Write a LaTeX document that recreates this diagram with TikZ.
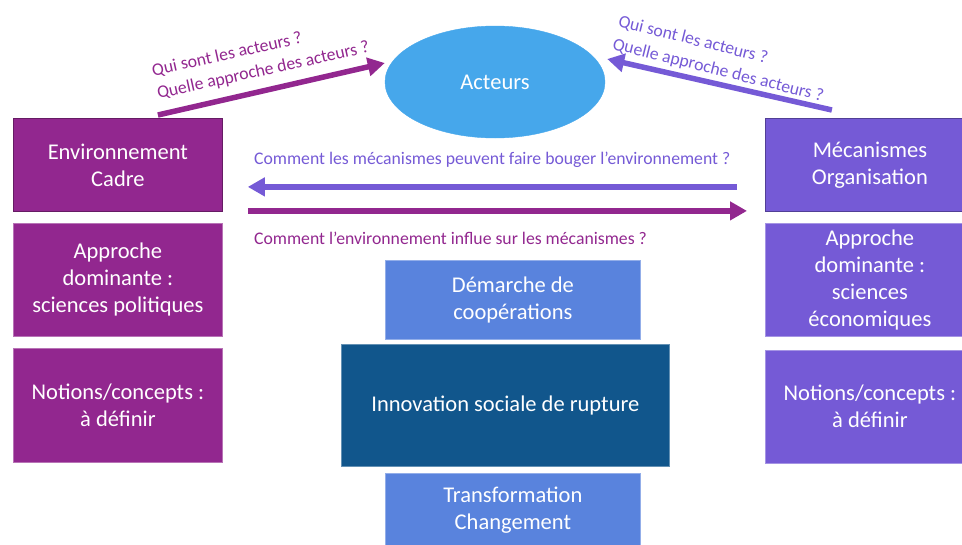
\documentclass[tikz,border=0pt]{standalone}
\usepackage{fontspec}
\setmainfont{Carlito}
\usetikzlibrary{positioning,arrows.meta,shapes.geometric}
\definecolor{mpurple}{RGB}{146,39,143}
\definecolor{mviolet}{RGB}{117,90,214}
\definecolor{msky}{RGB}{70,167,235}
\definecolor{mblue}{RGB}{89,131,221}
\definecolor{mnavy}{RGB}{17,86,140}
\tikzset{
  block/.style={rectangle,fill=#1,draw=#1!65!white,line width=0.8pt,
    text=white,align=center,inner sep=0pt},
  headblock/.style={block=#1,draw=#1!70!black},
  colbox/.style={minimum width=209pt},
  fat/.style={draw=#1,line width=5.5pt,-{Triangle[length=17pt,width=18pt]}},
  question/.style={text=#1,font=\fontsize{17.7}{23.5}\selectfont,inner sep=0pt}
}
\begin{document}
\begin{tikzpicture}[x=1pt,y=-1pt,font=\fontsize{22.5}{27}\selectfont]
  \path[use as bounding box,clip] (0,0) rectangle (962,544);
  % left column
  \node[headblock=mpurple,colbox,minimum height=93pt,anchor=north west]
    (env-top) at (13,118) {Environnement\\Cadre};
  \node[block=mpurple,colbox,minimum height=113pt,below=11pt of env-top]
    (env-mid) {Approche\\dominante :\\sciences politiques};
  \node[block=mpurple,colbox,minimum height=114pt,below=11pt of env-mid]
    (env-bot) {Notions/concepts :\\à définir};
  % right column
  \node[headblock=mviolet,colbox,minimum height=93pt,anchor=north west]
    (mec-top) at (765,118) {Mécanismes\\Organisation};
  \node[block=mviolet,colbox,minimum height=113pt,below=11pt of mec-top]
    (mec-mid) {Approche\\dominante :\\sciences\\économiques};
  \node[block=mviolet,colbox,minimum height=113pt,below=13pt of mec-mid]
    (mec-bot) {Notions/concepts :\\à définir};
  % centre
  \node[ellipse,fill=msky,draw=msky,text=white,minimum width=220pt,
    minimum height=112pt] (acteurs) at (495,82) {Acteurs};
  \node[block=mblue,minimum width=255pt,minimum height=79pt,anchor=north west]
    (demarche) at (385,260) {Démarche de\\coopérations};
  \node[block=mnavy,minimum width=328pt,minimum height=122pt,
    below=4pt of demarche,xshift=-7.5pt] (innovation) {Innovation sociale de rupture};
  \node[block=mblue,minimum width=255pt,minimum height=74pt,
    below=6pt of innovation,xshift=7.5pt] (transfo) {Transformation\\Changement};
  % questions
  \node[question=mviolet,anchor=base west] (q-mec) at (254,164)
    {Comment les mécanismes peuvent faire bouger l’environnement ?};
  \node[question=mpurple,anchor=base west] (q-env) at (254,244.5)
    {Comment l’environnement influe sur les mécanismes ?};
  \node[question=mpurple,align=left,rotate=12.5,anchor=south west] (q-left)
    at (159,102) {Qui sont les acteurs ?\\Quelle approche des acteurs ?};
  \node[question=mviolet,align=left,rotate=-14,anchor=south west] (q-right)
    at (611,52) {Qui sont les acteurs ?\\Quelle approche des acteurs ?};
  % arrows
  \draw[fat=mpurple] ([xshift=40pt,yshift=3pt]env-top.north)
    -- ([yshift=19pt]acteurs.west);
  \draw[fat=mviolet] ([xshift=-38pt,yshift=8pt]mec-top.north)
    -- ([xshift=2pt,yshift=23pt]acteurs.east);
  \draw[fat=mviolet] ([xshift=-28pt,yshift=-22pt]mec-top.west)
    -- ([xshift=25pt,yshift=-22pt]env-top.east);
  \draw[fat=mpurple] ([xshift=25pt,yshift=-46pt]env-top.east)
    -- ([xshift=-18pt,yshift=-46pt]mec-top.west);
\end{tikzpicture}
\end{document}
